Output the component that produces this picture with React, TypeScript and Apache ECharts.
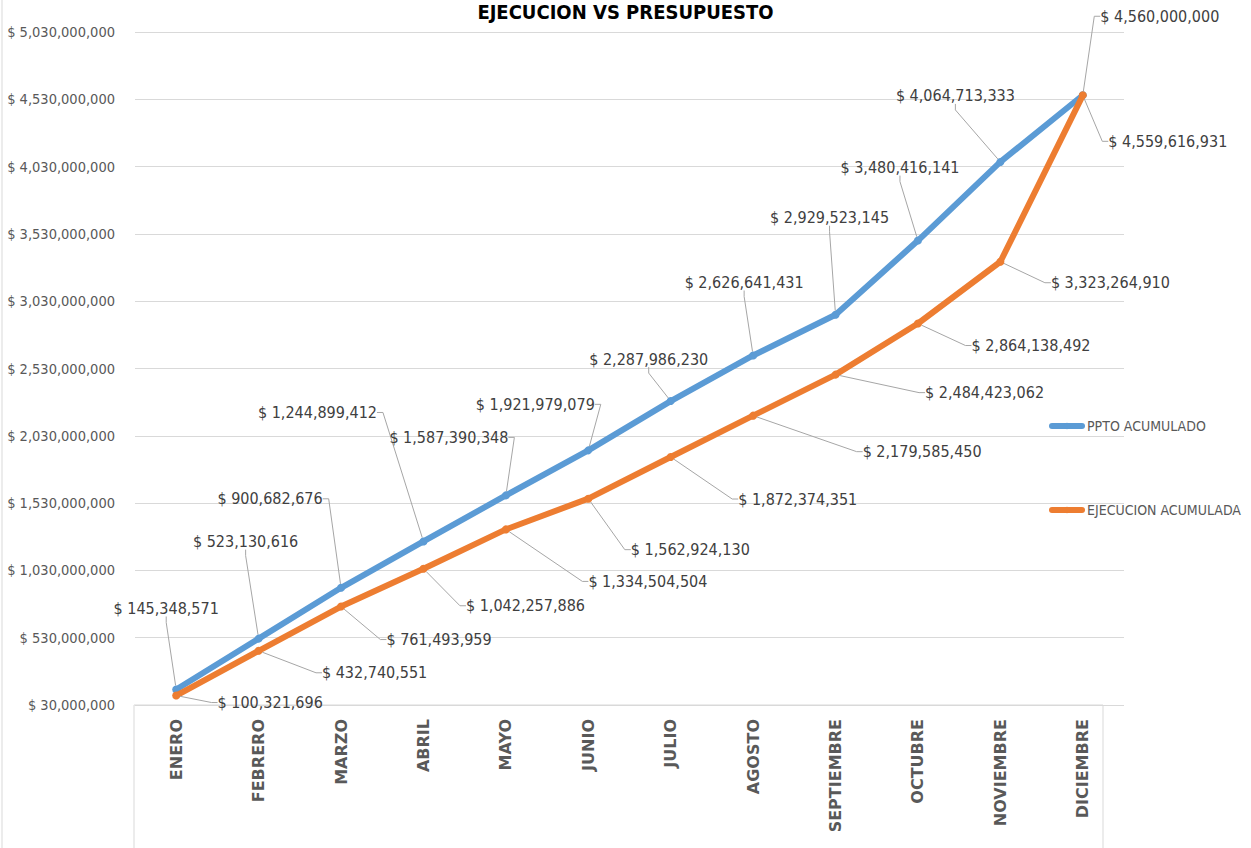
import React, { useEffect, useRef } from "react";
import * as echarts from "echarts";

const months = [
  "ENERO",
  "FEBRERO",
  "MARZO",
  "ABRIL",
  "MAYO",
  "JUNIO",
  "JULIO",
  "AGOSTO",
  "SEPTIEMBRE",
  "OCTUBRE",
  "NOVIEMBRE",
  "DICIEMBRE",
];

const pptoAcumulado = [
  145348571, 523130616, 900682676, 1244899412, 1587390348, 1921979079,
  2287986230, 2626641431, 2929523145, 3480416141, 4064713333, 4560000000,
];

const ejecucionAcumulada = [
  100321696, 432740551, 761493959, 1042257886, 1334504504, 1562924130,
  1872374351, 2179585450, 2484423062, 2864138492, 3323264910, 4559616931,
];

const yMin = 30000000;
const yMax = 5030000000;
const yStep = 500000000;

// label placement (offset of label centre from its point, px)
const pptoLabelOffsets: [number, number][] = [
  [-10, -81], [-13, -97], [-71, -89], [-106, -129], [-57, -58], [-53, -46],
  [-22, -42], [-9, -73], [-6, -97], [-18, -73], [-45, -66], [77, -79],
];
const ejecLabelOffsets: [number, number][] = [
  [94, 7], [116, 22], [98, 33], [102, 37], [142, 52], [102, 51],
  [127, 42], [169, 36], [149, 18], [113, 22], [110, 21], [85, 46],
];

const NARROW = "'Liberation Sans Narrow', 'DejaVu Sans Condensed', 'Liberation Sans', sans-serif";

const fmt = (v: number) =>
  "$ " + String(Math.round(v)).replace(/\B(?=(\d{3})+(?!\d))/g, ",");

export default function App() {
  const ref = useRef<HTMLDivElement>(null);

  useEffect(() => {
    if (!ref.current) return;
    const chart = echarts.init(ref.current, undefined, { renderer: "svg" });

    const makeLayout = (offsets: [number, number][]) => (p: any) => {
      const o = offsets[p.dataIndex] || [0, 0];
      const cx = p.rect.x + p.rect.width / 2;
      const cy = p.rect.y + p.rect.height / 2;
      return {
        x: cx + o[0],
        y: cy + o[1],
        align: "center",
        verticalAlign: "middle",
      };
    };

    const labelCommon = {
      show: true,
      formatter: (p: any) => fmt(p.value),
      fontFamily: NARROW,
      fontSize: 16,
      color: "#404040",
    };
    const labelLineCommon = {
      show: true,
      length2: 6,
      lineStyle: { color: "#A6A6A6", width: 1 },
    };

    chart.setOption({
      animation: false,
      backgroundColor: "#ffffff",
      title: {
        text: "EJECUCION VS PRESUPUESTO",
        left: "center",
        top: -3,
        textStyle: {
          fontFamily: NARROW,
          fontWeight: "bold",
          fontSize: 20,
          color: "#000000",
        },
      },
      legend: {
        orient: "vertical",
        left: 1044,
        top: 413,
        itemGap: 68,
        itemWidth: 30,
        itemHeight: 8,
        lineStyle: { width: 6, cap: "round" },
        textStyle: {
          fontFamily: NARROW,
          fontSize: 14,
          color: "#595959",
          lineHeight: 16,
        },
        data: ["PPTO ACUMULADO", "EJECUCION ACUMULADA"],
      },
      grid: {
        left: 135,
        right: 127,
        top: 32,
        bottom: 143,
        containLabel: false,
        outerBoundsMode: "none",
      },
      xAxis: {
        type: "category",
        data: months,
        boundaryGap: true,
        axisLine: { show: false },
        axisTick: { show: false },
        axisLabel: {
          rotate: 90,
          margin: 14,
          fontFamily: "'DejaVu Sans', sans-serif",
          fontWeight: "bold",
          fontSize: 16,
          color: "#595959",
        },
      },
      yAxis: {
        type: "value",
        min: yMin,
        max: yMax,
        interval: yStep,
        axisLine: { show: false },
        axisTick: { show: false },
        splitLine: { lineStyle: { color: "#D9D9D9", width: 1 } },
        axisLabel: {
          formatter: (v: number) => fmt(v),
          fontFamily: NARROW,
          fontSize: 14.5,
          color: "#595959",
          margin: 20,
        },
      },
      graphic: [
        {
          type: "rect",
          shape: { x: 134, y: 705, width: 969, height: 200 },
          style: { fill: "none", stroke: "#D9D9D9", lineWidth: 1 },
          silent: true,
        },
        {
          type: "line",
          shape: { x1: 2, y1: 0, x2: 2, y2: 848 },
          style: { stroke: "#D9D9D9", lineWidth: 1 },
          silent: true,
        },
      ],
      series: [
        {
          name: "PPTO ACUMULADO",
          type: "line",
          data: pptoAcumulado,
          symbol: "circle",
          symbolSize: 8,
          lineStyle: { color: "#5B9BD5", width: 6 },
          itemStyle: { color: "#5B9BD5" },
          label: labelCommon,
          labelLine: labelLineCommon,
          labelLayout: makeLayout(pptoLabelOffsets),
          z: 3,
        },
        {
          name: "EJECUCION ACUMULADA",
          type: "line",
          data: ejecucionAcumulada,
          symbol: "circle",
          symbolSize: 8,
          lineStyle: { color: "#ED7D31", width: 6 },
          itemStyle: { color: "#ED7D31" },
          label: labelCommon,
          labelLine: labelLineCommon,
          labelLayout: makeLayout(ejecLabelOffsets),
          z: 4,
        },
      ],
    });

    return () => chart.dispose();
  }, []);

  return (
    <div
      ref={ref}
      style={{ position: "absolute", left: 0, top: 0, width: 1251, height: 848 }}
    />
  );
}
